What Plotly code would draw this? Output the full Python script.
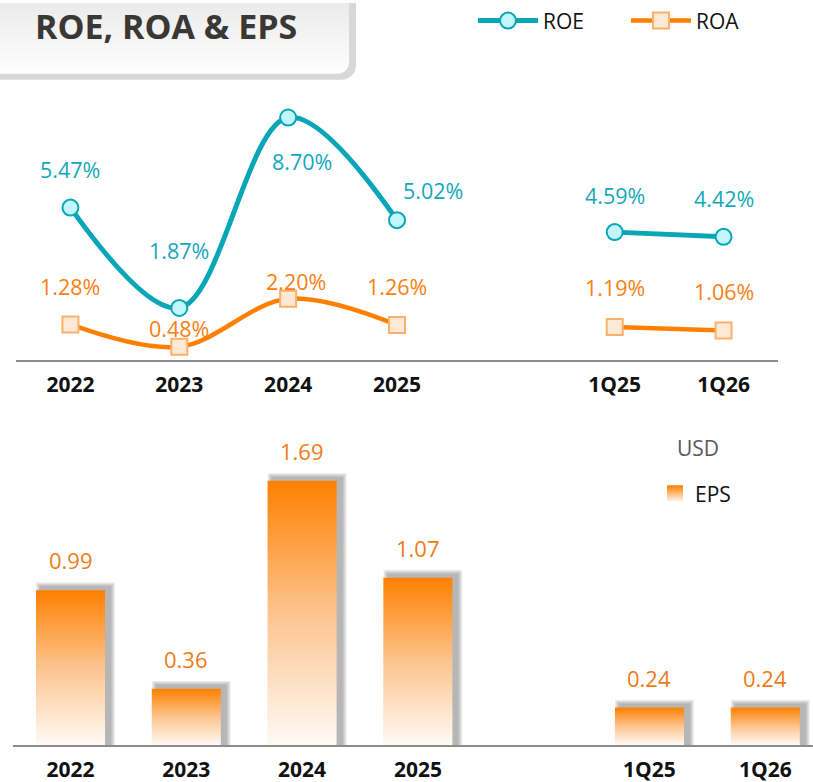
import math
import plotly.graph_objects as go

W, H = 813, 782

# ---- data -------------------------------------------------------------
years = ["2022", "2023", "2024", "2025"]
quarters = ["1Q25", "1Q26"]

roe_years = [5.47, 1.87, 8.70, 5.02]
roe_quarters = [4.59, 4.42]
roa_years = [1.28, 0.48, 2.20, 1.26]
roa_quarters = [1.19, 1.06]
eps_years = [0.99, 0.36, 1.69, 1.07]
eps_quarters = [0.24, 0.24]

# slot positions on the x axes: annual periods, one empty slot, quarters
year_pos = [0, 1, 2, 3]
quarter_pos = [5, 6]
tick_pos = year_pos + quarter_pos
tick_text = years + quarters

# ---- panel geometry (pixels) -------------------------------------------
TOP_PX_X = (16, 778)
TOP_PX_Y = (85, 358.5)        # top edge, zero line
BOT_PX_X = (12.6, 813)
BOT_PX_Y = (440, 745)

TOP_XRANGE = [-0.5, 6.5]
TOP_YRANGE = [0, 9.77]
BOT_XRANGE = [-0.5, 6.412]
BOT_YRANGE = [0, 1.943]


def dom_x(px):
    return [px[0] / W, px[1] / W]


def dom_y(py):
    return [1 - py[1] / H, 1 - py[0] / H]


# pixel -> data unit conversions for the EPS panel (used for bar shadows)
bot_ux = (BOT_PX_X[1] - BOT_PX_X[0]) / (BOT_XRANGE[1] - BOT_XRANGE[0])
bot_uy = (BOT_PX_Y[1] - BOT_PX_Y[0]) / (BOT_YRANGE[1] - BOT_YRANGE[0])

FONT = "Open Sans, Noto Sans, sans-serif"

ROE_LINE = "#08a6b7"
ROE_FILL = "#c2f5fc"
ROE_TEXT = "#12a8b9"
ROA_LINE = "#ff8000"
ROA_FILL = "#fee9d7"
ROA_EDGE = "#fdb06a"
ROA_TEXT = "#f98012"
EPS_TEXT = "#ef7b17"

fig = go.Figure()

# ---- title card (drawn in a pixel-space helper subplot) ----------------
def rounded_box(x0, y0, x1, y1, r, n=10):
    xs = [x0, x1]
    ys = [y0, y0]
    xs.append(x1)
    ys.append(y1 - r)
    for k in range(n + 1):
        a = math.pi / 2 * k / n
        xs.append(x1 - r + r * math.cos(a))
        ys.append(y1 - r + r * math.sin(a))
    xs += [x0, x0]
    ys += [y1, y0]
    return xs, ys


sx, sy = rounded_box(-10, -10, 356, 77, 14)
fig.add_trace(go.Scatter(x=sx, y=sy, mode="lines", fill="toself",
                         fillcolor="#d8d8d8", line=dict(width=0),
                         xaxis="x3", yaxis="y3", hoverinfo="skip",
                         showlegend=False))
bx, by = rounded_box(-10, -10, 349, 71, 11)
fig.add_trace(go.Scatter(x=bx, y=by, mode="lines", fill="toself",
                         fillgradient=dict(type="vertical",
                                           colorscale=[[0, "#fefefe"], [1, "#e8e8e8"]]),
                         line=dict(width=0),
                         xaxis="x3", yaxis="y3", hoverinfo="skip",
                         showlegend=False))

# ---- ROE / ROA lines ----------------------------------------------------
series = [
    ("ROE", roe_years, roe_quarters, ROE_LINE, 5, "circle", 16, ROE_FILL, ROE_LINE),
    ("ROA", roa_years, roa_quarters, ROA_LINE, 4.5, "square", 16, ROA_FILL, ROA_EDGE),
]
for name, yv, qv, lc, lw, sym, ms, mf, me in series:
    marker = dict(symbol=sym, size=ms, color=mf, line=dict(color=me, width=2))
    fig.add_trace(go.Scatter(x=year_pos, y=yv, name=name, mode="lines+markers",
                             line=dict(color=lc, width=lw, shape="spline", smoothing=1.0),
                             marker=marker, xaxis="x", yaxis="y", legend="legend"))
    fig.add_trace(go.Scatter(x=quarter_pos, y=qv, name=name, mode="lines+markers",
                             line=dict(color=lc, width=lw), marker=marker,
                             xaxis="x", yaxis="y", showlegend=False))

# ---- EPS bars (gradient fill with soft drop shadow) ---------------------
BAR_HALF = 0.298
eps_pos = year_pos + quarter_pos
eps_vals = eps_years + eps_quarters

shadow_dx = 5 / bot_ux
shadow_dy = 3 / bot_uy
for p, v in zip(eps_pos, eps_vals):
    for k in range(5, 0, -1):
        gx = k / bot_ux
        gy = k / bot_uy
        x0 = p - BAR_HALF + shadow_dx - gx
        x1 = p + BAR_HALF + shadow_dx + gx
        top = v + shadow_dy + gy
        fig.add_trace(go.Scatter(x=[x0, x1, x1, x0, x0], y=[0, 0, top, top, 0],
                                 mode="lines", fill="toself",
                                 fillcolor="rgba(60,60,60,0.085)", line=dict(width=0),
                                 xaxis="x2", yaxis="y2", hoverinfo="skip",
                                 showlegend=False))

for p, v in zip(eps_pos, eps_vals):
    x0, x1 = p - BAR_HALF, p + BAR_HALF
    fig.add_trace(go.Scatter(x=[x0, x1, x1, x0, x0], y=[0, 0, v, v, 0],
                             mode="lines", fill="toself",
                             fillgradient=dict(type="vertical",
                                               colorscale=[[0, "#fffaf5"], [0.5, "#fcc48e"],
                                                           [1, "#ff8000"]]),
                             line=dict(width=0), xaxis="x2", yaxis="y2",
                             hoverinfo="skip", showlegend=False))

# legend entry for EPS
fig.add_trace(go.Scatter(x=[None], y=[None], name="EPS", mode="markers",
                         marker=dict(symbol="square", size=16, color="#ff8000",
                                     gradient=dict(type="vertical", color="#fff4ea")),
                         xaxis="x2", yaxis="y2", legend="legend2"))

# ---- value labels -------------------------------------------------------
roe_shift = [(0, 38), (0, 57), (14, -44), (36, 30), (0, 37), (0, 38)]
roa_shift = [(0, 38), (0, 18), (8, 17), (0, 38), (0, 39), (0, 39)]

annotations = []
for vals, shifts, col in [(roe_years + roe_quarters, roe_shift, ROE_TEXT),
                          (roa_years + roa_quarters, roa_shift, ROA_TEXT)]:
    for p, v, (dx, dy) in zip(tick_pos, vals, shifts):
        annotations.append(dict(x=p, y=v, xref="x", yref="y", text=f"{v:.2f}%",
                                showarrow=False, xshift=dx, yshift=dy,
                                font=dict(family=FONT, size=21.5, color=col)))
for p, v in zip(eps_pos, eps_vals):
    annotations.append(dict(x=p, y=v, xref="x2", yref="y2", text=f"{v:.2f}",
                            showarrow=False, yshift=30,
                            font=dict(family=FONT, size=22, color=EPS_TEXT)))

annotations.append(dict(x=166 / W, y=1 - 23 / H, xref="paper", yref="paper",
                        text="<b>ROE, ROA &amp; EPS</b>", showarrow=False,
                        xanchor="center", yanchor="middle",
                        font=dict(family=FONT, size=34, color="#3a3735")))
annotations.append(dict(x=698 / W, y=1 - 447 / H, xref="paper", yref="paper",
                        text="USD", showarrow=False, xanchor="center", yanchor="middle",
                        font=dict(family=FONT, size=21, color="#595959")))

tick_font = dict(family=FONT, size=21, color="#111111", weight="bold")
axis_common = dict(showgrid=False, zeroline=False, showline=True,
                   linecolor="#8c8c8c", linewidth=2, tickvals=tick_pos,
                   ticktext=tick_text, ticks="outside", ticklen=5,
                   tickcolor="rgba(0,0,0,0)", tickfont=tick_font, fixedrange=True)

fig.update_layout(
    width=W, height=H, autosize=False,
    margin=dict(l=0, r=0, t=0, b=0),
    paper_bgcolor="white", plot_bgcolor="rgba(0,0,0,0)",
    font=dict(family=FONT),
    xaxis=dict(domain=dom_x(TOP_PX_X), range=TOP_XRANGE, anchor="y", **axis_common),
    yaxis=dict(domain=dom_y(TOP_PX_Y), range=TOP_YRANGE, anchor="x", visible=False,
               fixedrange=True),
    xaxis2=dict(domain=dom_x(BOT_PX_X), range=BOT_XRANGE, anchor="y2", **axis_common),
    yaxis2=dict(domain=dom_y(BOT_PX_Y), range=BOT_YRANGE, anchor="x2", visible=False,
                fixedrange=True),
    xaxis3=dict(domain=[0, 1], range=[0, W], anchor="y3", visible=False, fixedrange=True),
    yaxis3=dict(domain=[0, 1], range=[H, 0], anchor="x3", visible=False, fixedrange=True),
    legend=dict(orientation="h", x=473 / W, y=1 - 18 / H, xanchor="left",
                yanchor="middle",
                font=dict(family=FONT, size=21, color="#111111"),
                bgcolor="rgba(0,0,0,0)", itemwidth=60, entrywidth=78),
    legend2=dict(x=655 / W, y=1 - 472 / H, xanchor="left", yanchor="top",
                 font=dict(family=FONT, size=21, color="#111111"),
                 bgcolor="rgba(0,0,0,0)"),
    annotations=annotations,
    showlegend=True,
)

fig.write_html("out.html")
